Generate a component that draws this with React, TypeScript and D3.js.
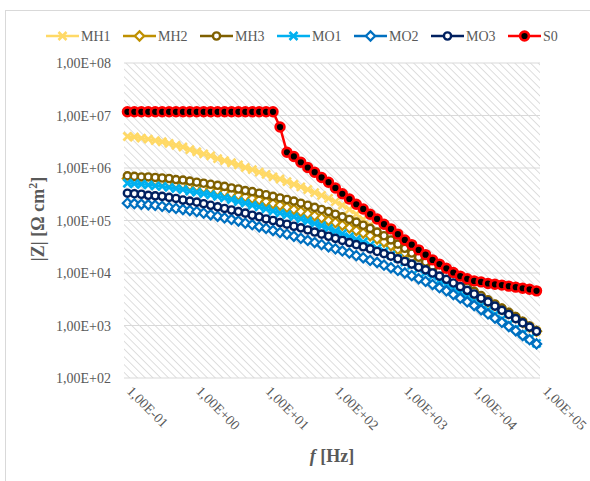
import React from 'react';
import * as d3 from 'd3';

// Frequencies (Hz)
const freqHz = [
  0.112, 0.141, 0.178, 0.224, 0.282, 0.355, 0.447, 0.562, 0.708, 0.891,
  1.12, 1.41, 1.78, 2.24, 2.82, 3.55, 4.47, 5.62, 7.08, 8.91,
  11.2, 14.1, 17.8, 22.4, 28.2, 35.5, 44.7, 56.2, 70.8, 89.1,
  112, 141, 178, 224, 282, 355, 447, 562, 708, 891,
  1122, 1413, 1778, 2239, 2818, 3548, 4467, 5623, 7079, 8913,
  11220, 14130, 17780, 22390, 28180, 35480, 44670, 56230, 70790, 89130,
];

// log10 |Z| [Ω cm²]
const MH1 = [
  6.60, 6.59, 6.57, 6.55, 6.52, 6.50, 6.47, 6.43, 6.40, 6.35,
  6.31, 6.27, 6.23, 6.18, 6.14, 6.10, 6.06, 6.01, 5.97, 5.92,
  5.88, 5.83, 5.79, 5.74, 5.69, 5.64, 5.59, 5.53, 5.48, 5.42,
  5.36, 5.29, 5.21, 5.12, 5.02, 4.91, 4.80, 4.70, 4.60, 4.50,
  4.41, 4.33, 4.25, 4.17, 4.09, 4.01, 3.93, 3.85, 3.77, 3.69,
  3.61, 3.53, 3.46, 3.38, 3.30, 3.22, 3.14, 3.06, 2.98, 2.89,
];
const MH2 = [
  5.80, 5.79, 5.78, 5.77, 5.76, 5.75, 5.73, 5.71, 5.69, 5.67,
  5.65, 5.62, 5.60, 5.57, 5.54, 5.51, 5.48, 5.45, 5.42, 5.39,
  5.36, 5.32, 5.29, 5.25, 5.21, 5.17, 5.13, 5.09, 5.05, 5.00,
  4.96, 4.91, 4.86, 4.81, 4.76, 4.71, 4.65, 4.59, 4.52, 4.45,
  4.38, 4.30, 4.22, 4.14, 4.06, 3.98, 3.90, 3.83, 3.75, 3.67,
  3.59, 3.52, 3.45, 3.38, 3.31, 3.23, 3.15, 3.06, 2.97, 2.89,
];
const MH3 = [
  5.85, 5.84, 5.83, 5.83, 5.82, 5.81, 5.80, 5.78, 5.77, 5.75,
  5.73, 5.71, 5.69, 5.67, 5.65, 5.62, 5.60, 5.57, 5.55, 5.52,
  5.49, 5.46, 5.43, 5.40, 5.37, 5.33, 5.29, 5.25, 5.21, 5.17,
  5.12, 5.07, 5.02, 4.97, 4.91, 4.85, 4.78, 4.71, 4.63, 4.55,
  4.47, 4.38, 4.30, 4.21, 4.13, 4.05, 3.97, 3.89, 3.81, 3.73,
  3.65, 3.57, 3.49, 3.41, 3.33, 3.25, 3.17, 3.08, 2.99, 2.90,
];
const MO1 = [
  5.71, 5.70, 5.69, 5.68, 5.66, 5.65, 5.63, 5.61, 5.59, 5.56,
  5.54, 5.51, 5.49, 5.46, 5.43, 5.40, 5.36, 5.33, 5.29, 5.26,
  5.22, 5.18, 5.14, 5.11, 5.07, 5.03, 4.99, 4.94, 4.90, 4.85,
  4.80, 4.75, 4.69, 4.64, 4.59, 4.53, 4.47, 4.41, 4.34, 4.28,
  4.21, 4.15, 4.08, 4.01, 3.94, 3.86, 3.78, 3.70, 3.62, 3.54,
  3.46, 3.38, 3.29, 3.21, 3.12, 3.03, 2.94, 2.84, 2.75, 2.66,
];
const MO2 = [
  5.33, 5.32, 5.31, 5.30, 5.29, 5.27, 5.25, 5.23, 5.21, 5.19,
  5.17, 5.14, 5.11, 5.08, 5.05, 5.02, 4.99, 4.95, 4.92, 4.88,
  4.85, 4.81, 4.77, 4.74, 4.70, 4.66, 4.62, 4.58, 4.54, 4.50,
  4.46, 4.42, 4.38, 4.33, 4.29, 4.24, 4.20, 4.15, 4.10, 4.05,
  4.00, 3.95, 3.89, 3.84, 3.78, 3.72, 3.66, 3.59, 3.52, 3.45,
  3.38, 3.30, 3.22, 3.14, 3.06, 2.98, 2.90, 2.81, 2.73, 2.65,
];
const MO3 = [
  5.52, 5.51, 5.50, 5.48, 5.47, 5.46, 5.44, 5.42, 5.39, 5.37,
  5.35, 5.32, 5.29, 5.26, 5.23, 5.20, 5.17, 5.14, 5.10, 5.07,
  5.03, 5.00, 4.96, 4.93, 4.89, 4.86, 4.82, 4.78, 4.74, 4.70,
  4.66, 4.62, 4.58, 4.54, 4.50, 4.46, 4.41, 4.37, 4.32, 4.27,
  4.22, 4.17, 4.11, 4.06, 4.00, 3.94, 3.88, 3.81, 3.74, 3.67,
  3.60, 3.52, 3.45, 3.37, 3.29, 3.21, 3.13, 3.05, 2.97, 2.89,
];
const S0 = [
  7.07, 7.07, 7.07, 7.07, 7.07, 7.07, 7.07, 7.07, 7.07, 7.07,
  7.07, 7.07, 7.07, 7.07, 7.07, 7.07, 7.07, 7.07, 7.07, 7.07,
  7.07, 7.07, 6.78, 6.30, 6.22, 6.11, 6.01, 5.92, 5.82, 5.73,
  5.62, 5.51, 5.41, 5.31, 5.22, 5.12, 5.03, 4.93, 4.84, 4.74,
  4.63, 4.54, 4.44, 4.35, 4.25, 4.17, 4.09, 4.01, 3.94, 3.89,
  3.85, 3.83, 3.80, 3.785, 3.77, 3.75, 3.73, 3.71, 3.69, 3.66,
];

const seriesNames = ['MH1', 'MH2', 'MH3', 'MO1', 'MO2', 'MO3', 'S0'];
const seriesValues = [MH1, MH2, MH3, MO1, MO2, MO3, S0];
const yTicks = [1e2, 1e3, 1e4, 1e5, 1e6, 1e7, 1e8];
const xTicks = [1e-1, 1e0, 1e1, 1e2, 1e3, 1e4, 1e5];

const styles: Record<string, { color: string; marker: string; fill: string }> = {
  MH1: { color: '#FFD966', marker: 'x', fill: 'none' },
  MH2: { color: '#BF9000', marker: 'diamond', fill: '#ffffff' },
  MH3: { color: '#7F6000', marker: 'circle', fill: '#ffffff' },
  MO1: { color: '#00B0F0', marker: 'x', fill: 'none' },
  MO2: { color: '#0070C0', marker: 'diamond', fill: '#ffffff' },
  MO3: { color: '#002060', marker: 'circle', fill: '#ffffff' },
  S0: { color: '#FF0000', marker: 'dot', fill: '#000000' },
};

const FONT = "'Liberation Serif', 'Times New Roman', serif";

function fmtSci(v: number) {
  const e = Math.round(Math.log10(v));
  return '1,00E' + (e < 0 ? '-' : '+') + String(Math.abs(e)).padStart(2, '0');
}

function Marker({ type, x, y, color, fill }: { type: string; x: number; y: number; color: string; fill: string }) {
  if (type === 'x') {
    const s = 4;
    return (
      <path
        d={`M${x - s},${y - s}L${x + s},${y + s}M${x - s},${y + s}L${x + s},${y - s}`}
        stroke={color}
        strokeWidth={2.6}
        fill="none"
      />
    );
  }
  if (type === 'diamond') {
    const s = 4.6;
    return (
      <path
        d={`M${x},${y - s}L${x + s},${y}L${x},${y + s}L${x - s},${y}Z`}
        stroke={color}
        strokeWidth={2.2}
        fill={fill}
      />
    );
  }
  if (type === 'circle') {
    return <circle cx={x} cy={y} r={3.6} stroke={color} strokeWidth={2.4} fill={fill} />;
  }
  return <circle cx={x} cy={y} r={4.4} stroke={color} strokeWidth={2.6} fill={fill} />;
}

export default function App() {
  const W = 590;
  const H = 481;
  const left = 124;
  const right = 540;
  const top = 63;
  const bottom = 378;

  const x = d3.scaleLog().domain([1e-1, 1e5]).range([left, right]);
  const y = d3.scaleLog().domain([1e2, 1e8]).range([bottom, top]);

  const line = d3
    .line<[number, number]>()
    .x((d) => x(d[0]))
    .y((d) => y(d[1]));

  const legendX = [46, 123, 200, 277, 354, 431, 508];

  return (
    <svg
      width={W}
      height={H}
      style={{ position: 'absolute', left: 0, top: 0, background: '#ffffff' }}
      fontFamily={FONT}
    >
      <defs>
        <pattern id="hatch" patternUnits="userSpaceOnUse" width={5.5} height={5.5} patternTransform="rotate(-45)">
          <line x1={0} y1={0} x2={0} y2={5.5} stroke="#d6d6d6" strokeWidth={1.6} />
        </pattern>
      </defs>
      <rect x={0} y={0} width={W} height={H} fill="#ffffff" />
      {/* outer chart frame */}
      <rect x={5.5} y={10.5} width={W + 20} height={H + 20} fill="none" stroke="#d9d9d9" strokeWidth={1} />

      {/* plot area hatch */}
      <rect x={left} y={top} width={right - left} height={bottom - top} fill="url(#hatch)" />

      {/* gridlines */}
      {yTicks.map((t) => (
        <line key={t} x1={left} x2={right} y1={y(t)} y2={y(t)} stroke="#d9d9d9" strokeWidth={1} />
      ))}

      {/* y tick labels */}
      {yTicks.map((t) => (
        <text key={'yl' + t} x={111} y={y(t) + 5} textAnchor="end" fontSize={14} fill="#595959">
          {fmtSci(t)}
        </text>
      ))}

      {/* x tick labels */}
      {xTicks.map((t) => (
        <text
          key={'xl' + t}
          transform={`translate(${x(t) + 2},${bottom + 14}) rotate(45)`}
          fontSize={14}
          fill="#595959"
        >
          {fmtSci(t)}
        </text>
      ))}

      {/* series */}
      {seriesNames.map((name, i) => {
        const st = styles[name];
        const pts: [number, number][] = freqHz.map((f, k) => [f, Math.pow(10, seriesValues[i][k])]);
        return (
          <g key={name}>
            <path d={line(pts) || ''} fill="none" stroke={st.color} strokeWidth={2.5} strokeLinejoin="round" />
            {pts.map((p, k) => (
              <Marker key={k} type={st.marker} x={x(p[0])} y={y(p[1])} color={st.color} fill={st.fill} />
            ))}
          </g>
        );
      })}

      {/* legend */}
      {seriesNames.map((name, i) => {
        const st = styles[name];
        const lx = legendX[i];
        const ly = 36;
        return (
          <g key={'lg' + name}>
            <line x1={lx} x2={lx + 33} y1={ly} y2={ly} stroke={st.color} strokeWidth={2.5} />
            <Marker type={st.marker} x={lx + 16.5} y={ly} color={st.color} fill={st.fill} />
            <text x={lx + 35} y={ly + 5} fontSize={14} fill="#595959">
              {name}
            </text>
          </g>
        );
      })}

      {/* axis titles */}
      <text x={332} y={462} textAnchor="middle" fontSize={18} fontWeight="bold" fill="#595959">
        <tspan fontStyle="italic">f</tspan> [Hz]
      </text>
      <text
        transform={`translate(44,219) rotate(-90)`}
        textAnchor="middle"
        fontSize={18}
        fontWeight="bold"
        fill="#595959"
      >
        |Z| [Ω cm<tspan dy={-7} fontSize={12}>2</tspan>
        <tspan dy={7}>]</tspan>
      </text>
    </svg>
  );
}
